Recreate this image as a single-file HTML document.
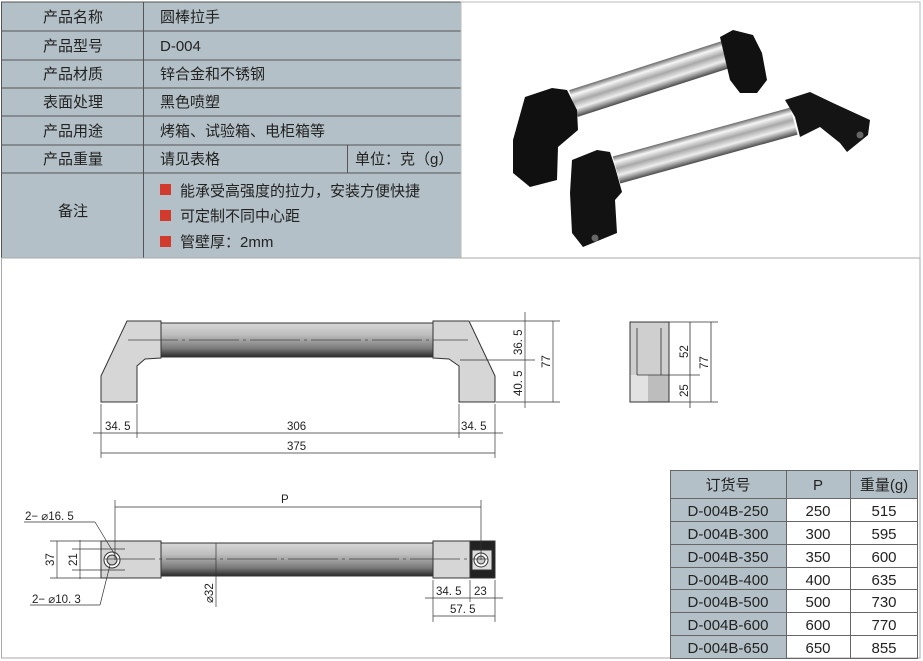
<!DOCTYPE html>
<html><head><meta charset="utf-8"><style>
html,body{margin:0;padding:0;background:#fff;}
svg{display:block;font-family:"Liberation Sans","Noto Sans CJK SC",sans-serif;}
</style></head><body>
<svg width="923" height="661" viewBox="0 0 923 661" xmlns="http://www.w3.org/2000/svg">
<defs>
<linearGradient id="tube" x1="0" y1="0" x2="0" y2="1">
<stop offset="0" stop-color="#d8d8d8"/><stop offset="0.35" stop-color="#bdbdbd"/><stop offset="0.75" stop-color="#7a7a7a"/><stop offset="1" stop-color="#2a2a2a"/></linearGradient>
<linearGradient id="chrome" x1="0" y1="0" x2="0" y2="1">
<stop offset="0" stop-color="#6a6a6a"/><stop offset="0.2" stop-color="#f6f6f6"/><stop offset="0.45" stop-color="#a8a8a8"/><stop offset="0.7" stop-color="#eeeeee"/><stop offset="1" stop-color="#4a4a4a"/></linearGradient>
</defs>
<!-- top table -->
<rect x="1" y="2" width="460" height="256" fill="#b4c0c7"/>
<g stroke="#555" stroke-width="1" fill="none">
<line x1="1" y1="2" x2="461" y2="2"/>
<line x1="1" y1="31" x2="461" y2="31"/>
<line x1="1" y1="60" x2="461" y2="60"/>
<line x1="1" y1="88" x2="461" y2="88"/>
<line x1="1" y1="116" x2="461" y2="116"/>
<line x1="1" y1="145" x2="461" y2="145"/>
<line x1="1" y1="173" x2="461" y2="173"/>
<line x1="143.5" y1="2" x2="143.5" y2="258"/>
<line x1="347.5" y1="145" x2="347.5" y2="173"/>
<line x1="1.5" y1="2" x2="1.5" y2="258"/>
</g>
<g font-size="15" fill="#222">
<g text-anchor="middle">
<text x="73" y="22">产品名称</text><text x="73" y="51">产品型号</text><text x="73" y="79">产品材质</text>
<text x="73" y="107">表面处理</text><text x="73" y="136">产品用途</text><text x="73" y="164">产品重量</text>
<text x="73" y="216">备注</text></g>
<text x="160" y="22">圆棒拉手</text><text x="160" y="51">D-004</text><text x="160" y="79">锌合金和不锈钢</text>
<text x="160" y="107">黑色喷塑</text><text x="160" y="136">烤箱、试验箱、电柜箱等</text><text x="160" y="164">请见表格</text>
<text x="355" y="164">单位：克（g）</text>
<rect x="160" y="184" width="11" height="11" fill="#d23a2e"/><text x="180" y="196">能承受高强度的拉力，安装方便快捷</text>
<rect x="160" y="210" width="11" height="11" fill="#d23a2e"/><text x="180" y="221">可定制不同中心距</text>
<rect x="160" y="236" width="11" height="11" fill="#d23a2e"/><text x="180" y="247">管壁厚：2mm</text>
</g>
<!-- frames -->
<rect x="461" y="2" width="459" height="256" fill="#fff" stroke="#bbb"/>
<rect x="1.5" y="258" width="918.5" height="400" fill="none" stroke="#aaa"/>
<!-- photo -->
<g>
<rect x="0" y="-14" width="166" height="28" fill="url(#chrome)" transform="translate(573.5,103.5) rotate(-17.8)"/>
<rect x="0" y="-14" width="184" height="28" fill="url(#chrome)" transform="translate(616.5,170) rotate(-15.4)"/>
<polygon points="720,37 733,30 753,35 762,53 767,80 757,93 740,93 730,80" fill="#111"/>
<polygon points="525,97 552,88 567,90 577,110 578,130 558,147 557,180 530,187 513,173 513,140" fill="#101010"/>
<polygon points="785,100 810,92 833,103 870,120 868,135 847,152 840,143 820,127 800,137 795,117" fill="#141414"/>
<circle cx="860" cy="135" r="3.5" fill="#666"/>
<polygon points="572,160 597,150 610,152 615,167 622,192 615,200 617,233 583,247 572,233 570,193" fill="#121212"/>
<circle cx="595" cy="238" r="3.5" fill="#666"/>
</g>
<!-- front view -->
<g stroke="#333" stroke-width="1">
<rect x="161" y="323" width="272" height="34" fill="url(#tube)"/>
<polygon points="127,321 161,321 161,358 145,359 137,366 137,402 101,402 101,376" fill="#d6d6d6"/>
<polygon points="469,321 433,321 433,358 449,359 459,366 459,402 495,402 495,376" fill="#d6d6d6"/>
</g>
<line x1="128" y1="340" x2="468" y2="340" stroke="#444" stroke-width="0.8" stroke-dasharray="50,4,3,4"/>
<g stroke="#333" stroke-width="0.7" fill="none">
<line x1="470" y1="321" x2="560" y2="321"/><line x1="460" y1="360" x2="535" y2="360"/><line x1="496" y1="402" x2="560" y2="402"/>
<line x1="525" y1="312" x2="525" y2="408"/><line x1="553" y1="321" x2="553" y2="402"/>
<line x1="101" y1="404" x2="101" y2="458"/><line x1="137" y1="404" x2="137" y2="438"/><line x1="459" y1="404" x2="459" y2="438"/><line x1="495" y1="404" x2="495" y2="458"/>
<line x1="93" y1="433" x2="503" y2="433"/><line x1="101" y1="453" x2="495" y2="453"/>
</g>
<g font-size="11.5" fill="#222">
<text x="105" y="430">34. 5</text><text x="287" y="430">306</text><text x="461" y="430">34. 5</text><text x="287" y="450">375</text>
<text transform="translate(522,355) rotate(-90)">36. 5</text><text transform="translate(522,396) rotate(-90)">40. 5</text>
<text transform="translate(550,368) rotate(-90)">77</text>
</g>
<!-- side view -->
<rect x="630" y="322" width="39" height="80" fill="#cfcfcf" stroke="#333"/>
<rect x="630" y="375" width="18" height="27" fill="#e2e2e2"/>
<rect x="648" y="375" width="21" height="27" fill="#bdbdbd"/>
<rect x="630" y="322" width="39" height="80" fill="none" stroke="#333"/>
<g stroke="#333" stroke-width="0.8" fill="none">
<line x1="637" y1="328" x2="637" y2="375"/><line x1="661" y1="328" x2="661" y2="375"/><line x1="637" y1="375" x2="700" y2="375"/>
<line x1="669" y1="322" x2="718" y2="322"/><line x1="669" y1="402" x2="718" y2="402"/>
<line x1="690" y1="322" x2="690" y2="408"/><line x1="711" y1="322" x2="711" y2="402"/>
</g>
<g font-size="11.5" fill="#222">
<text transform="translate(688,358) rotate(-90)">52</text><text transform="translate(688,397) rotate(-90)">25</text>
<text transform="translate(708,369) rotate(-90)">77</text>
</g>
<!-- top view -->
<g stroke="#333" stroke-width="1">
<rect x="161" y="543" width="272" height="33" fill="url(#tube)"/>
<rect x="101" y="541" width="60" height="37" fill="#d6d6d6"/>
<rect x="433" y="541" width="62" height="37" fill="#d6d6d6"/>
<rect x="470" y="541" width="25" height="37" fill="#222"/>
<rect x="472" y="550" width="20" height="20" fill="#ddd"/>
</g>
<circle cx="112" cy="560" r="8" fill="#fff" stroke="#333"/><circle cx="112" cy="560" r="5" fill="#ccc" stroke="#333"/>
<circle cx="481" cy="560" r="7" fill="#fff" stroke="#333"/><circle cx="481" cy="560" r="4" fill="#ccc" stroke="#333"/>
<line x1="105" y1="559" x2="488" y2="559" stroke="#444" stroke-width="0.8" stroke-dasharray="50,4,3,4"/>
<g stroke="#333" stroke-width="0.7" fill="none">
<line x1="115" y1="500" x2="115" y2="560"/><line x1="481" y1="500" x2="481" y2="560"/><line x1="115" y1="507" x2="481" y2="507"/>
<line x1="50" y1="541" x2="125" y2="541"/><line x1="50" y1="578" x2="125" y2="578"/>
<line x1="72" y1="549" x2="125" y2="549"/><line x1="72" y1="570" x2="125" y2="570"/>
<line x1="57" y1="541" x2="57" y2="578"/><line x1="80" y1="540" x2="80" y2="579"/>
<line x1="24" y1="522" x2="95" y2="522"/><line x1="95" y1="522" x2="115" y2="555"/>
<line x1="30" y1="605" x2="100" y2="605"/><line x1="100" y1="605" x2="110" y2="565"/>
<line x1="216" y1="543" x2="216" y2="607"/>
<line x1="433" y1="580" x2="433" y2="622"/><line x1="470" y1="580" x2="470" y2="602"/><line x1="495" y1="580" x2="495" y2="622"/>
<line x1="425" y1="598" x2="503" y2="598"/><line x1="433" y1="616" x2="495" y2="616"/>
</g>
<g font-size="11.5" fill="#222">
<text x="281" y="503">P</text>
<text x="25" y="520">2− ⌀16. 5</text><text x="32" y="603">2− ⌀10. 3</text>
<text transform="translate(54,566) rotate(-90)">37</text><text transform="translate(77,566) rotate(-90)">21</text>
<text transform="translate(213,603) rotate(-90)">⌀32</text>
<text x="436" y="595">34. 5</text><text x="474" y="595">23</text><text x="450" y="613">57. 5</text>
</g>
<!-- order table -->
<rect x="670" y="470" width="248" height="28" fill="#b4c0c7"/>
<rect x="670" y="498" width="116" height="160" fill="#b4c0c7"/>
<g stroke="#666" stroke-width="1" fill="none">
<rect x="670.5" y="470.5" width="247" height="188"/>
<line x1="786.5" y1="470" x2="786.5" y2="659"/><line x1="850.5" y1="470" x2="850.5" y2="659"/>
<line x1="670" y1="498.5" x2="918" y2="498.5"/><line x1="670" y1="521.5" x2="918" y2="521.5"/>
<line x1="670" y1="544.5" x2="918" y2="544.5"/><line x1="670" y1="567.5" x2="918" y2="567.5"/>
<line x1="670" y1="589.5" x2="918" y2="589.5"/><line x1="670" y1="612.5" x2="918" y2="612.5"/>
<line x1="670" y1="635.5" x2="918" y2="635.5"/>
</g>
<g font-size="15" fill="#222" text-anchor="middle">
<text x="728" y="490">订货号</text><text x="818" y="490">P</text><text x="884" y="490">重量(g)</text>
<text x="728" y="516">D-004B-250</text><text x="818" y="516">250</text><text x="884" y="516">515</text>
<text x="728" y="539">D-004B-300</text><text x="818" y="539">300</text><text x="884" y="539">595</text>
<text x="728" y="562">D-004B-350</text><text x="818" y="562">350</text><text x="884" y="562">600</text>
<text x="728" y="585">D-004B-400</text><text x="818" y="585">400</text><text x="884" y="585">635</text>
<text x="728" y="607">D-004B-500</text><text x="818" y="607">500</text><text x="884" y="607">730</text>
<text x="728" y="630">D-004B-600</text><text x="818" y="630">600</text><text x="884" y="630">770</text>
<text x="728" y="653">D-004B-650</text><text x="818" y="653">650</text><text x="884" y="653">855</text>
</g>
</svg>
</body></html>
